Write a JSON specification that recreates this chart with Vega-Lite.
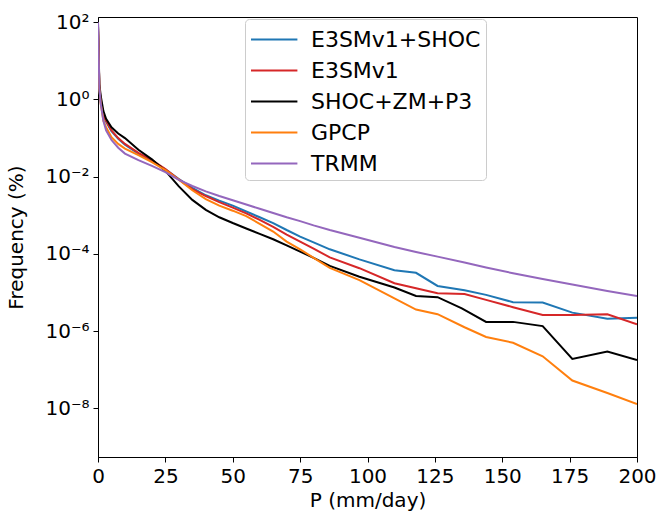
{
  "$schema": "https://vega.github.io/schema/vega-lite/v6.json",
  "autosize": "none",
  "width": 539,
  "height": 440,
  "padding": {"left": 98, "top": 17, "right": 24, "bottom": 56},
  "background": "white",
  "config": {
    "font": "DejaVu Sans",
    "view": {"stroke": "#000000", "strokeWidth": 1},
    "axis": {
      "grid": false,
      "domainColor": "#000000",
      "tickColor": "#000000",
      "tickSize": 5,
      "labelColor": "#000000",
      "titleColor": "#000000",
      "labelFontSize": 20,
      "titleFontSize": 20,
      "titleFontWeight": "normal",
      "labelPadding": 4
    }
  },
  "title": {
    "text": "Daily precipitation frequency (30S-30N)",
    "frame": "group",
    "anchor": "middle",
    "baseline": "alphabetic",
    "offset": 16,
    "fontSize": 22,
    "fontWeight": "bold",
    "color": "#000000"
  },
  "data": {
    "values": [
      {"P": 0, "Frequency": 79.4, "Dataset": "E3SMv1+SHOC"},
      {"P": 0.5, "Frequency": 2.0, "Dataset": "E3SMv1+SHOC"},
      {"P": 1, "Frequency": 0.891, "Dataset": "E3SMv1+SHOC"},
      {"P": 2, "Frequency": 0.38, "Dataset": "E3SMv1+SHOC"},
      {"P": 3, "Frequency": 0.263, "Dataset": "E3SMv1+SHOC"},
      {"P": 5, "Frequency": 0.151, "Dataset": "E3SMv1+SHOC"},
      {"P": 7.5, "Frequency": 0.0955, "Dataset": "E3SMv1+SHOC"},
      {"P": 10, "Frequency": 0.0676, "Dataset": "E3SMv1+SHOC"},
      {"P": 15, "Frequency": 0.0398, "Dataset": "E3SMv1+SHOC"},
      {"P": 20, "Frequency": 0.0257, "Dataset": "E3SMv1+SHOC"},
      {"P": 25, "Frequency": 0.0155, "Dataset": "E3SMv1+SHOC"},
      {"P": 30, "Frequency": 0.00871, "Dataset": "E3SMv1+SHOC"},
      {"P": 35, "Frequency": 0.00513, "Dataset": "E3SMv1+SHOC"},
      {"P": 40, "Frequency": 0.00331, "Dataset": "E3SMv1+SHOC"},
      {"P": 45, "Frequency": 0.0024, "Dataset": "E3SMv1+SHOC"},
      {"P": 50, "Frequency": 0.001778, "Dataset": "E3SMv1+SHOC"},
      {"P": 55, "Frequency": 0.001259, "Dataset": "E3SMv1+SHOC"},
      {"P": 60, "Frequency": 0.000891, "Dataset": "E3SMv1+SHOC"},
      {"P": 65, "Frequency": 0.000631, "Dataset": "E3SMv1+SHOC"},
      {"P": 70, "Frequency": 0.000417, "Dataset": "E3SMv1+SHOC"},
      {"P": 75, "Frequency": 0.000282, "Dataset": "E3SMv1+SHOC"},
      {"P": 80, "Frequency": 0.0002, "Dataset": "E3SMv1+SHOC"},
      {"P": 86, "Frequency": 0.0001318, "Dataset": "E3SMv1+SHOC"},
      {"P": 97, "Frequency": 7.24e-5, "Dataset": "E3SMv1+SHOC"},
      {"P": 110, "Frequency": 3.8e-5, "Dataset": "E3SMv1+SHOC"},
      {"P": 118, "Frequency": 3.24e-5, "Dataset": "E3SMv1+SHOC"},
      {"P": 126, "Frequency": 1.479e-5, "Dataset": "E3SMv1+SHOC"},
      {"P": 136, "Frequency": 1.148e-5, "Dataset": "E3SMv1+SHOC"},
      {"P": 144, "Frequency": 8.71e-6, "Dataset": "E3SMv1+SHOC"},
      {"P": 154, "Frequency": 5.62e-6, "Dataset": "E3SMv1+SHOC"},
      {"P": 165, "Frequency": 5.5e-6, "Dataset": "E3SMv1+SHOC"},
      {"P": 176, "Frequency": 3.02e-6, "Dataset": "E3SMv1+SHOC"},
      {"P": 189, "Frequency": 2.09e-6, "Dataset": "E3SMv1+SHOC"},
      {"P": 200, "Frequency": 2.24e-6, "Dataset": "E3SMv1+SHOC"},

      {"P": 0, "Frequency": 79.4, "Dataset": "E3SMv1"},
      {"P": 0.5, "Frequency": 2.24, "Dataset": "E3SMv1"},
      {"P": 1, "Frequency": 1.0, "Dataset": "E3SMv1"},
      {"P": 2, "Frequency": 0.398, "Dataset": "E3SMv1"},
      {"P": 3, "Frequency": 0.282, "Dataset": "E3SMv1"},
      {"P": 5, "Frequency": 0.158, "Dataset": "E3SMv1"},
      {"P": 7.5, "Frequency": 0.1, "Dataset": "E3SMv1"},
      {"P": 10, "Frequency": 0.0708, "Dataset": "E3SMv1"},
      {"P": 15, "Frequency": 0.0417, "Dataset": "E3SMv1"},
      {"P": 20, "Frequency": 0.0269, "Dataset": "E3SMv1"},
      {"P": 25, "Frequency": 0.0158, "Dataset": "E3SMv1"},
      {"P": 30, "Frequency": 0.00851, "Dataset": "E3SMv1"},
      {"P": 35, "Frequency": 0.00479, "Dataset": "E3SMv1"},
      {"P": 40, "Frequency": 0.00316, "Dataset": "E3SMv1"},
      {"P": 45, "Frequency": 0.00219, "Dataset": "E3SMv1"},
      {"P": 50, "Frequency": 0.001585, "Dataset": "E3SMv1"},
      {"P": 55, "Frequency": 0.001122, "Dataset": "E3SMv1"},
      {"P": 60, "Frequency": 0.000759, "Dataset": "E3SMv1"},
      {"P": 65, "Frequency": 0.000501, "Dataset": "E3SMv1"},
      {"P": 70, "Frequency": 0.000316, "Dataset": "E3SMv1"},
      {"P": 75, "Frequency": 0.000209, "Dataset": "E3SMv1"},
      {"P": 80, "Frequency": 0.000138, "Dataset": "E3SMv1"},
      {"P": 86, "Frequency": 8.13e-5, "Dataset": "E3SMv1"},
      {"P": 97, "Frequency": 4.27e-5, "Dataset": "E3SMv1"},
      {"P": 110, "Frequency": 1.738e-5, "Dataset": "E3SMv1"},
      {"P": 118, "Frequency": 1.288e-5, "Dataset": "E3SMv1"},
      {"P": 126, "Frequency": 9.55e-6, "Dataset": "E3SMv1"},
      {"P": 136, "Frequency": 9.12e-6, "Dataset": "E3SMv1"},
      {"P": 144, "Frequency": 6.46e-6, "Dataset": "E3SMv1"},
      {"P": 154, "Frequency": 4.17e-6, "Dataset": "E3SMv1"},
      {"P": 165, "Frequency": 2.63e-6, "Dataset": "E3SMv1"},
      {"P": 176, "Frequency": 2.63e-6, "Dataset": "E3SMv1"},
      {"P": 189, "Frequency": 2.75e-6, "Dataset": "E3SMv1"},
      {"P": 200, "Frequency": 1.514e-6, "Dataset": "E3SMv1"},

      {"P": 0, "Frequency": 100, "Dataset": "SHOC+ZM+P3"},
      {"P": 0.5, "Frequency": 2.51, "Dataset": "SHOC+ZM+P3"},
      {"P": 1, "Frequency": 1.26, "Dataset": "SHOC+ZM+P3"},
      {"P": 2, "Frequency": 0.501, "Dataset": "SHOC+ZM+P3"},
      {"P": 3, "Frequency": 0.316, "Dataset": "SHOC+ZM+P3"},
      {"P": 5, "Frequency": 0.191, "Dataset": "SHOC+ZM+P3"},
      {"P": 7.5, "Frequency": 0.132, "Dataset": "SHOC+ZM+P3"},
      {"P": 10, "Frequency": 0.1, "Dataset": "SHOC+ZM+P3"},
      {"P": 15, "Frequency": 0.0501, "Dataset": "SHOC+ZM+P3"},
      {"P": 20, "Frequency": 0.0282, "Dataset": "SHOC+ZM+P3"},
      {"P": 25, "Frequency": 0.0141, "Dataset": "SHOC+ZM+P3"},
      {"P": 30, "Frequency": 0.00562, "Dataset": "SHOC+ZM+P3"},
      {"P": 35, "Frequency": 0.00251, "Dataset": "SHOC+ZM+P3"},
      {"P": 40, "Frequency": 0.00138, "Dataset": "SHOC+ZM+P3"},
      {"P": 45, "Frequency": 0.000891, "Dataset": "SHOC+ZM+P3"},
      {"P": 50, "Frequency": 0.000631, "Dataset": "SHOC+ZM+P3"},
      {"P": 55, "Frequency": 0.000457, "Dataset": "SHOC+ZM+P3"},
      {"P": 60, "Frequency": 0.000331, "Dataset": "SHOC+ZM+P3"},
      {"P": 65, "Frequency": 0.00024, "Dataset": "SHOC+ZM+P3"},
      {"P": 70, "Frequency": 0.000166, "Dataset": "SHOC+ZM+P3"},
      {"P": 75, "Frequency": 0.0001148, "Dataset": "SHOC+ZM+P3"},
      {"P": 80, "Frequency": 7.94e-5, "Dataset": "SHOC+ZM+P3"},
      {"P": 86, "Frequency": 4.9e-5, "Dataset": "SHOC+ZM+P3"},
      {"P": 97, "Frequency": 2.57e-5, "Dataset": "SHOC+ZM+P3"},
      {"P": 110, "Frequency": 1.349e-5, "Dataset": "SHOC+ZM+P3"},
      {"P": 118, "Frequency": 8.13e-6, "Dataset": "SHOC+ZM+P3"},
      {"P": 126, "Frequency": 7.59e-6, "Dataset": "SHOC+ZM+P3"},
      {"P": 135, "Frequency": 3.89e-6, "Dataset": "SHOC+ZM+P3"},
      {"P": 144, "Frequency": 1.738e-6, "Dataset": "SHOC+ZM+P3"},
      {"P": 154, "Frequency": 1.738e-6, "Dataset": "SHOC+ZM+P3"},
      {"P": 165, "Frequency": 1.349e-6, "Dataset": "SHOC+ZM+P3"},
      {"P": 176, "Frequency": 1.905e-7, "Dataset": "SHOC+ZM+P3"},
      {"P": 189, "Frequency": 2.95e-7, "Dataset": "SHOC+ZM+P3"},
      {"P": 200, "Frequency": 1.778e-7, "Dataset": "SHOC+ZM+P3"},

      {"P": 0, "Frequency": 79.4, "Dataset": "GPCP"},
      {"P": 0.5, "Frequency": 2.0, "Dataset": "GPCP"},
      {"P": 1, "Frequency": 0.794, "Dataset": "GPCP"},
      {"P": 2, "Frequency": 0.282, "Dataset": "GPCP"},
      {"P": 3, "Frequency": 0.191, "Dataset": "GPCP"},
      {"P": 5, "Frequency": 0.105, "Dataset": "GPCP"},
      {"P": 7.5, "Frequency": 0.0708, "Dataset": "GPCP"},
      {"P": 10, "Frequency": 0.0537, "Dataset": "GPCP"},
      {"P": 15, "Frequency": 0.0363, "Dataset": "GPCP"},
      {"P": 20, "Frequency": 0.024, "Dataset": "GPCP"},
      {"P": 25, "Frequency": 0.0148, "Dataset": "GPCP"},
      {"P": 30, "Frequency": 0.00832, "Dataset": "GPCP"},
      {"P": 35, "Frequency": 0.004467, "Dataset": "GPCP"},
      {"P": 40, "Frequency": 0.00263, "Dataset": "GPCP"},
      {"P": 45, "Frequency": 0.001778, "Dataset": "GPCP"},
      {"P": 50, "Frequency": 0.001318, "Dataset": "GPCP"},
      {"P": 55, "Frequency": 0.000955, "Dataset": "GPCP"},
      {"P": 60, "Frequency": 0.000603, "Dataset": "GPCP"},
      {"P": 65, "Frequency": 0.00038, "Dataset": "GPCP"},
      {"P": 70, "Frequency": 0.000209, "Dataset": "GPCP"},
      {"P": 75, "Frequency": 0.0001318, "Dataset": "GPCP"},
      {"P": 80, "Frequency": 7.94e-5, "Dataset": "GPCP"},
      {"P": 86, "Frequency": 4.37e-5, "Dataset": "GPCP"},
      {"P": 97, "Frequency": 2.09e-5, "Dataset": "GPCP"},
      {"P": 110, "Frequency": 7.08e-6, "Dataset": "GPCP"},
      {"P": 118, "Frequency": 3.63e-6, "Dataset": "GPCP"},
      {"P": 126, "Frequency": 2.75e-6, "Dataset": "GPCP"},
      {"P": 136, "Frequency": 1.26e-6, "Dataset": "GPCP"},
      {"P": 144, "Frequency": 7.08e-7, "Dataset": "GPCP"},
      {"P": 154, "Frequency": 5.01e-7, "Dataset": "GPCP"},
      {"P": 165, "Frequency": 2.24e-7, "Dataset": "GPCP"},
      {"P": 176, "Frequency": 5.25e-8, "Dataset": "GPCP"},
      {"P": 189, "Frequency": 2.51e-8, "Dataset": "GPCP"},
      {"P": 200, "Frequency": 1.288e-8, "Dataset": "GPCP"},

      {"P": 0, "Frequency": 100, "Dataset": "TRMM"},
      {"P": 0.5, "Frequency": 2.0, "Dataset": "TRMM"},
      {"P": 1, "Frequency": 0.794, "Dataset": "TRMM"},
      {"P": 2, "Frequency": 0.282, "Dataset": "TRMM"},
      {"P": 3, "Frequency": 0.158, "Dataset": "TRMM"},
      {"P": 5, "Frequency": 0.0891, "Dataset": "TRMM"},
      {"P": 7.5, "Frequency": 0.0562, "Dataset": "TRMM"},
      {"P": 10, "Frequency": 0.0398, "Dataset": "TRMM"},
      {"P": 15, "Frequency": 0.0269, "Dataset": "TRMM"},
      {"P": 20, "Frequency": 0.0191, "Dataset": "TRMM"},
      {"P": 25, "Frequency": 0.0132, "Dataset": "TRMM"},
      {"P": 30, "Frequency": 0.00832, "Dataset": "TRMM"},
      {"P": 35, "Frequency": 0.00575, "Dataset": "TRMM"},
      {"P": 40, "Frequency": 0.00417, "Dataset": "TRMM"},
      {"P": 45, "Frequency": 0.003162, "Dataset": "TRMM"},
      {"P": 50, "Frequency": 0.002455, "Dataset": "TRMM"},
      {"P": 55, "Frequency": 0.001905, "Dataset": "TRMM"},
      {"P": 60, "Frequency": 0.001479, "Dataset": "TRMM"},
      {"P": 65, "Frequency": 0.001148, "Dataset": "TRMM"},
      {"P": 70, "Frequency": 0.000891, "Dataset": "TRMM"},
      {"P": 75, "Frequency": 0.000708, "Dataset": "TRMM"},
      {"P": 80, "Frequency": 0.00055, "Dataset": "TRMM"},
      {"P": 86, "Frequency": 0.000417, "Dataset": "TRMM"},
      {"P": 97, "Frequency": 0.000263, "Dataset": "TRMM"},
      {"P": 110, "Frequency": 0.0001514, "Dataset": "TRMM"},
      {"P": 118, "Frequency": 0.0001122, "Dataset": "TRMM"},
      {"P": 126, "Frequency": 8.51e-5, "Dataset": "TRMM"},
      {"P": 136, "Frequency": 6.03e-5, "Dataset": "TRMM"},
      {"P": 144, "Frequency": 4.47e-5, "Dataset": "TRMM"},
      {"P": 154, "Frequency": 3.16e-5, "Dataset": "TRMM"},
      {"P": 165, "Frequency": 2.24e-5, "Dataset": "TRMM"},
      {"P": 176, "Frequency": 1.62e-5, "Dataset": "TRMM"},
      {"P": 189, "Frequency": 1.096e-5, "Dataset": "TRMM"},
      {"P": 200, "Frequency": 8.13e-6, "Dataset": "TRMM"}
    ]
  },
  "mark": {"type": "line", "strokeWidth": 2, "clip": true},
  "encoding": {
    "x": {
      "field": "P",
      "type": "quantitative",
      "scale": {"domain": [0, 200], "nice": false},
      "axis": {
        "title": "P (mm/day)",
        "values": [0, 25, 50, 75, 100, 125, 150, 175, 200],
        "labelFlush": false,
        "labelOverlap": false,
        "titlePadding": 4
      }
    },
    "y": {
      "field": "Frequency",
      "type": "quantitative",
      "scale": {"type": "log", "domain": [5.5e-10, 137], "nice": false},
      "axis": {
        "title": "Frequency (%)",
        "values": [1e-8, 1e-6, 1e-4, 1e-2, 1, 100],
        "labelExpr": "datum.value > 10 ? '10²' : datum.value > 0.1 ? '10⁰' : datum.value > 1e-3 ? '10⁻²' : datum.value > 1e-5 ? '10⁻⁴' : datum.value > 1e-7 ? '10⁻⁶' : '10⁻⁸'",
        "labelOverlap": false,
        "titleAngle": -90,
        "titleBaseline": "alphabetic",
        "titleAlign": "center",
        "titleX": -76,
        "titleY": 220
      }
    },
    "color": {
      "field": "Dataset",
      "type": "nominal",
      "sort": ["E3SMv1+SHOC", "E3SMv1", "SHOC+ZM+P3", "GPCP", "TRMM"],
      "scale": {
        "domain": ["E3SMv1+SHOC", "E3SMv1", "SHOC+ZM+P3", "GPCP", "TRMM"],
        "range": ["#1f77b4", "#d62728", "#000000", "#ff7f0e", "#9467bd"]
      },
      "legend": {
        "title": null,
        "orient": "none",
        "legendX": 147,
        "legendY": 2,
        "symbolType": "M-1,0H2.2",
        "symbolSize": 841,
        "symbolStrokeWidth": 2,
        "labelFontSize": 22,
        "labelLimit": 0,
        "labelColor": "#000000",
        "labelOffset": 30,
        "rowPadding": 4,
        "padding": 5,
        "fillColor": "white",
        "strokeColor": "#cccccc",
        "cornerRadius": 4
      }
    }
  }
}
